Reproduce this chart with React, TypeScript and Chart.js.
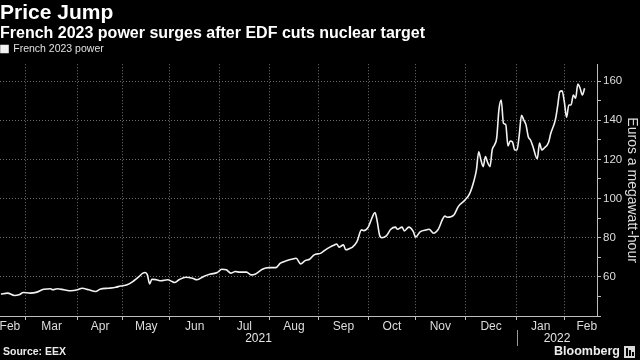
import React, { useEffect, useRef } from "react";
import { Chart, registerables } from "chart.js";

Chart.register(...registerables);

const TITLE = "Price Jump";
const SUBTITLE = "French 2023 power surges after EDF cuts nuclear target";
const SERIES_LABEL = "French 2023 power";
const Y_AXIS_TITLE = "Euros a megawatt-hour";
const SOURCE = "Source: EEX";
const BRAND = "Bloomberg";

// x: trading-day index (0 = first trading day of March 2021)
const tradingDay = [
  -11, -8, -5, -3, -1, 2, 5, 8, 11, 12, 14, 17, 20, 23, 25, 28, 31, 33, 37, 40,
  42, 45, 48, 50, 52, 53, 54, 55, 56, 58, 60, 63, 65, 66, 68, 71, 74, 76, 79, 82,
  85, 87, 89, 91, 93, 95, 98, 100, 102, 105, 108, 111, 113, 116, 118, 120, 122, 124, 126, 128,
  131, 133, 135, 137, 138, 139, 141, 142, 144, 145, 147, 149, 150, 152, 153, 155, 156, 157, 158, 160,
  162, 164, 165, 167, 168, 170, 172, 173, 175, 178, 179, 181, 183, 186, 187, 190, 192, 195, 197, 199,
  200, 201, 202, 203, 204, 205, 206, 207, 208, 209, 210, 211, 212, 213, 214, 215, 216, 217, 218, 219,
  220, 221, 222, 223, 224, 225, 227, 228, 229, 230, 232, 233, 235, 236, 237, 238, 239, 240, 241, 242,
  243, 244, 245, 246, 247, 248,
];

// EUR/MWh
const priceEur = [
  51.2, 51.7, 50.5, 50.8, 52.0, 51.7, 52.2, 53.7, 53.9, 53.4, 53.9, 53.4, 52.9, 53.4, 54.2, 53.4, 52.5, 53.7, 54.2, 54.7,
  55.3, 55.9, 58.0, 59.8, 61.9, 62.2, 61.0, 56.4, 58.8, 58.5, 58.0, 58.5, 57.6, 57.1, 58.5, 59.8, 59.3, 58.5, 60.2, 61.4,
  62.2, 63.9, 63.6, 61.9, 62.7, 62.4, 62.4, 61.0, 61.5, 63.9, 64.7, 64.7, 67.0, 68.3, 69.0, 69.5, 66.6, 68.3, 69.0, 71.2,
  72.1, 73.8, 75.2, 76.3, 76.8, 75.2, 76.3, 73.8, 74.6, 75.2, 78.0, 84.0, 83.6, 85.4, 88.2, 92.8, 88.2, 81.4, 80.0, 80.9,
  84.3, 85.4, 84.3, 85.4, 83.5, 85.4, 83.1, 80.3, 83.0, 84.0, 84.3, 82.3, 84.2, 91.0, 90.4, 91.6, 96.0, 99.3, 102.5, 109.5,
  114.6, 123.9, 119.7, 116.3, 121.4, 118.3, 116.3, 124.8, 127.3, 131.0, 145.5, 150.3, 138.4, 137.8, 126.8, 129.4, 128.9, 124.8, 124.8, 132.4,
  142.5, 140.1, 137.6, 131.6, 129.9, 126.8, 120.3, 128.3, 124.8, 125.7, 128.6, 133.3, 140.1, 146.9, 154.5, 155.0, 149.4, 141.5, 147.8, 147.8,
  152.9, 151.2, 158.5, 156.3, 152.9, 156.3,
];

// first trading day of each month, Mar 2021 .. Feb 2022
const monthBoundaries = [0, 23, 43, 64, 86, 108, 130, 152, 173, 195, 218, 239];
const monthLabels = ["Feb", "Mar", "Apr", "May", "Jun", "Jul", "Aug", "Sep", "Oct", "Nov", "Dec", "Jan", "Feb"];
// where each month name sits (trading-day index)
const monthLabelAt = [-7, 11.5, 33, 53.5, 75, 97, 119, 141, 162.5, 184, 206.5, 228.5, 249];
const yearLabels = ["2021", "2022"];
const yearBoundary = 218; // 1 Jan 2022
const X_MIN = -11.4;
const X_MAX = 253.5;

const yTicks = [40, 50, 60, 70, 80, 90, 100, 110, 120, 130, 140, 150, 160];
const yLabelled = [60, 80, 100, 120, 140, 160];
const yGrid = [60, 80, 100, 120, 140, 160];
const Y_MIN = 40;
const Y_MAX = 168.6;

const FONT = "'Liberation Sans', Arial, Helvetica, sans-serif";

export default function App() {
  const ref = useRef<HTMLCanvasElement>(null);

  useEffect(() => {
    const canvas = ref.current;
    if (!canvas) return;

    const footer = {
      id: "footer",
      afterDraw(chart: any) {
        const { ctx, chartArea, scales } = chart;
        const x = scales.x;
        const yb = x.getPixelForValue(yearBoundary);
        ctx.save();
        ctx.fillStyle = "#e6e6e6";
        ctx.font = `12px ${FONT}`;
        ctx.textAlign = "center";
        ctx.textBaseline = "middle";
        ctx.fillText(yearLabels[0], (chartArea.left + yb) / 2, 339);
        ctx.fillText(yearLabels[1], (yb + chartArea.right) / 2, 339);
        ctx.strokeStyle = "#9a9a9a";
        ctx.lineWidth = 1;
        const sx = Math.round(yb) + 0.5;
        ctx.beginPath();
        ctx.moveTo(sx, 330);
        ctx.lineTo(sx, 346);
        ctx.stroke();

        ctx.fillStyle = "#ececec";
        ctx.textAlign = "left";
        ctx.font = `bold 10.5px ${FONT}`;
        ctx.fillText(SOURCE, 3, 352);
        ctx.textAlign = "right";
        ctx.font = `bold 12.5px ${FONT}`;
        ctx.fillText(BRAND, 620, 352);
        // small brand glyph
        ctx.fillStyle = "#d8d8d8";
        ctx.fillRect(624, 346, 11, 12);
        ctx.fillStyle = "#000";
        ctx.fillRect(626, 348, 2, 8);
        ctx.fillRect(629, 350, 2, 6);
        ctx.fillRect(632, 352, 2, 4);
        ctx.restore();
      },
    };

    const chart = new Chart(canvas, {
      type: "line",
      data: {
        datasets: [
          {
            label: SERIES_LABEL,
            data: tradingDay.map((d, i) => ({ x: d, y: priceEur[i] })),
            borderColor: "#f2f2f2",
            backgroundColor: "#f2f2f2",
            borderWidth: 1.6,
            pointRadius: 0,
            cubicInterpolationMode: "monotone",
          },
        ],
      },
      options: {
        responsive: false,
        maintainAspectRatio: false,
        animation: false,
        layout: { padding: { left: 0, right: 0, top: 0, bottom: 26 } },
        plugins: {
          title: {
            display: true,
            text: TITLE,
            align: "start",
            color: "#ffffff",
            font: { family: FONT, size: 21, weight: "bold", lineHeight: 1.1 },
            padding: { top: 2, bottom: 0 },
          },
          subtitle: {
            display: true,
            text: SUBTITLE,
            align: "start",
            color: "#ffffff",
            font: { family: FONT, size: 16, weight: "bold", lineHeight: 1.1 },
            padding: { top: 0, bottom: 0 },
          },
          legend: {
            display: true,
            align: "start",
            labels: {
              color: "#e0e0e0",
              font: { family: FONT, size: 10.5 },
              boxWidth: 7,
              boxHeight: 7,
              padding: 1,
            },
          },
          tooltip: { enabled: false },
        },
        scales: {
          x: {
            type: "linear",
            min: X_MIN,
            max: X_MAX,
            afterBuildTicks: (scale: any) => {
              const vals = [...monthBoundaries, ...monthLabelAt].sort((a, b) => a - b);
              scale.ticks = vals.map((v) => ({ value: v }));
            },
            afterFit: (scale: any) => {
              scale.height = 18;
            },
            ticks: {
              autoSkip: false,
              maxRotation: 0,
              color: "#dcdcdc",
              font: { family: FONT, size: 12 },
              padding: -1,
              callback: (value: any) => {
                const i = monthLabelAt.indexOf(value);
                return i >= 0 ? monthLabels[i] : "";
              },
            },
            grid: {
              lineWidth: 1,
              tickLength: 4,
              color: (ctx: any) =>
                ctx.tick && monthBoundaries.includes(ctx.tick.value) ? "#6e6e6e" : "rgba(0,0,0,0)",
              tickColor: (ctx: any) =>
                ctx.tick && monthBoundaries.includes(ctx.tick.value) ? "#bdbdbd" : "rgba(0,0,0,0)",
            },
            border: { display: true, color: "#bdbdbd", width: 1, dash: [1, 2] },
          },
          y: {
            position: "right",
            min: Y_MIN,
            max: Y_MAX,
            afterBuildTicks: (scale: any) => {
              scale.ticks = yTicks.map((v) => ({ value: v }));
            },
            afterFit: (scale: any) => {
              scale.width = 43;
            },
            ticks: {
              autoSkip: false,
              color: "#dcdcdc",
              font: { family: FONT, size: 11.5 },
              padding: 2,
              callback: (value: any) => (yLabelled.includes(value) ? String(value) : ""),
            },
            grid: {
              lineWidth: 1,
              tickLength: 4,
              color: (ctx: any) =>
                ctx.tick && yGrid.includes(ctx.tick.value) ? "#6e6e6e" : "rgba(0,0,0,0)",
              tickColor: "#bdbdbd",
            },
            border: { display: true, color: "#bdbdbd", width: 1, dash: [1, 2] },
            title: {
              display: true,
              text: Y_AXIS_TITLE,
              color: "#dcdcdc",
              font: { family: FONT, size: 14 },
              padding: 0,
            },
          },
        },
      },
      plugins: [footer],
    } as any);

    return () => chart.destroy();
  }, []);

  return (
    <div
      style={{
        position: "fixed",
        left: 0,
        top: 0,
        width: 640,
        height: 360,
        background: "#000",
        overflow: "hidden",
      }}
    >
      <canvas ref={ref} width={640} height={360} style={{ display: "block", width: 640, height: 360 }} />
    </div>
  );
}
